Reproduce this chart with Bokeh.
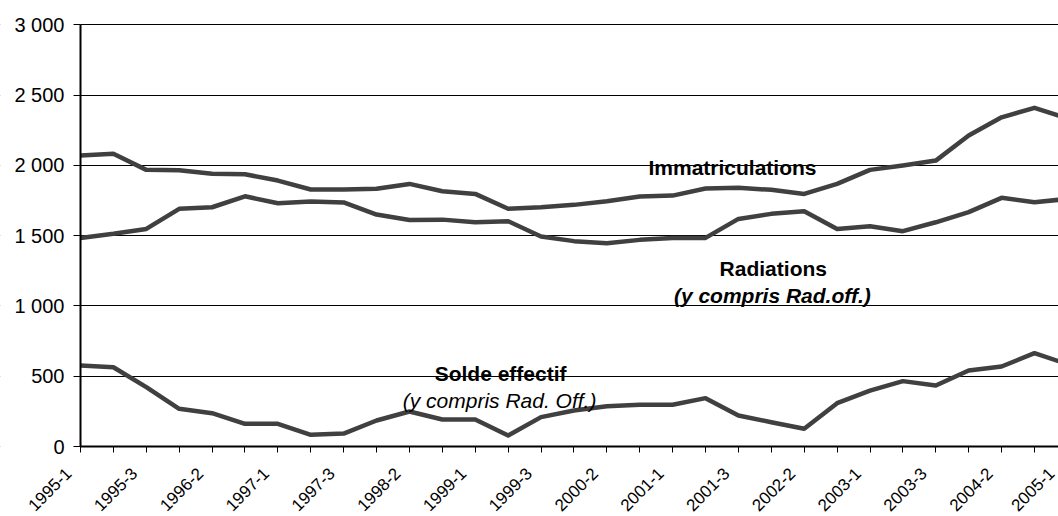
import math
from bokeh.plotting import figure
from bokeh.models import (FixedTicker, Range1d, Label, LinearAxis,
                          BoxAnnotation, ColumnDataSource)
from bokeh.embed import file_html
from bokeh.resources import INLINE

# Four-monthly periods (3 per year), 1995-1 .. 2005-1
periods = [f"{y}-{k}" for y in range(1995, 2005) for k in (1, 2, 3)] + ["2005-1"]

immatriculations = [2070, 2082, 1968, 1965, 1940, 1937, 1892, 1828, 1828, 1833,
                    1868, 1816, 1797, 1691, 1702, 1719, 1745, 1778, 1785, 1835,
                    1840, 1826, 1797, 1868, 1968, 1999, 2034, 2212, 2342, 2409,
                    2335]
radiations = [1484, 1513, 1548, 1691, 1702, 1780, 1731, 1743, 1736, 1650,
              1612, 1614, 1595, 1603, 1494, 1461, 1446, 1470, 1484, 1484,
              1619, 1655, 1674, 1548, 1567, 1532, 1595, 1667, 1769, 1738,
              1761]
solde = [576, 564, 422, 268, 237, 161, 161, 83, 92, 185,
         249, 192, 192, 78, 209, 256, 287, 297, 297, 344,
         220, 173, 126, 308, 398, 465, 434, 541, 569, 664,
         586]

y_ticks = [0, 500, 1000, 1500, 2000, 2500, 3000]
y_tick_labels = ["0", "500", "1 000", "1 500", "2 000", "2 500", "3 000"]

FONT = "Liberation Sans"
LINE_COLOR = "#404040"
W, H = 1058, 516
# plot area inside the canvas (pixels)
LEFT, TOP, BOTTOM = 80, 24.3, 446
X1 = 29.73                                   # last visible period position
PXU = (W - LEFT) / X1                        # px per period
PYU = (BOTTOM - TOP) / 3000                  # px per unit of value

idx = list(range(len(periods)))
src = ColumnDataSource(dict(x=idx, imm=immatriculations, rad=radiations, sol=solde))

p = figure(width=W, height=H,
           x_range=Range1d(-LEFT / PXU, X1),
           y_range=Range1d(-(H - BOTTOM) / PYU, 3000 + TOP / PYU),
           output_backend="svg", toolbar_location=None,
           min_border_left=0, min_border_right=0,
           min_border_top=0, min_border_bottom=0)
p.outline_line_color = None
p.background_fill_color = "white"
p.border_fill_color = "white"

# horizontal grid lines, only to the right of the value axis
p.xgrid.grid_line_color = None
p.ygrid.ticker = FixedTicker(ticks=y_ticks, minor_ticks=[])
p.ygrid.grid_line_color = "black"
p.ygrid.grid_line_width = 1
p.add_layout(BoxAnnotation(left=p.x_range.start - 1, right=0,
                           fill_color="white", fill_alpha=1,
                           line_color=None, level="underlay"))

for col in ("imm", "rad", "sol"):
    p.line("x", col, source=src, line_color=LINE_COLOR, line_width=4.5,
           line_join="round")

# x axis at value 0: a tick mark at every period
xa = p.xaxis[0]
xa.fixed_location = 0
xa.bounds = (0, X1)
xa.ticker = FixedTicker(ticks=idx, minor_ticks=[])
xa.major_label_overrides = {i: "" for i in idx}
xa.major_label_text_font_size = "0px"
xa.major_tick_in = 0
xa.major_tick_out = 6
xa.minor_tick_out = 0
xa.minor_tick_in = 0
xa.axis_line_color = "black"
xa.axis_line_width = 2
xa.major_tick_line_color = "black"

# period labels (every 2nd period), their ends set slightly left of the tick
s1 = 12 / PXU
s2 = 16 / PXU
p.extra_x_ranges = {"lab": Range1d(p.x_range.start + s1, X1 + s1),
                    "lab2": Range1d(p.x_range.start + s2, X1 + s2)}

def label_axis(range_name, ticks):
    ax = LinearAxis(x_range_name=range_name,
                    ticker=FixedTicker(ticks=ticks, minor_ticks=[]),
                    fixed_location=0)
    ax.major_label_overrides = {i: periods[i] for i in ticks}
    ax.major_label_orientation = math.pi / 4
    ax.major_label_standoff = 24
    ax.major_label_text_font = FONT
    ax.major_label_text_font_size = "17px"
    ax.major_label_text_color = "black"
    ax.axis_line_color = None
    ax.major_tick_line_color = None
    ax.minor_tick_line_color = None
    ax.major_tick_in = 0
    ax.major_tick_out = 0
    p.add_layout(ax, "below")

label_axis("lab", idx[:-1:2])
label_axis("lab2", [idx[-1]])

# y axis at period 0
ya = p.yaxis[0]
ya.fixed_location = 0
ya.bounds = (0, 3000)
ya.ticker = FixedTicker(ticks=y_ticks, minor_ticks=[])
ya.major_label_overrides = {t: l for t, l in zip(y_ticks, y_tick_labels)}
ya.major_label_text_font = FONT
ya.major_label_text_font_size = "20px"
ya.major_label_text_color = "black"
ya.major_label_standoff = 9
ya.major_tick_in = 0
ya.major_tick_out = 7
ya.minor_tick_out = 0
ya.minor_tick_in = 0
ya.axis_line_color = "black"
ya.axis_line_width = 2
ya.major_tick_line_color = "black"

def ann(x, y, text, style):
    p.add_layout(Label(x=x, y=y, text=text, text_align="center",
                       text_baseline="alphabetic", text_font=FONT,
                       text_font_size="21px", text_font_style=style,
                       text_color="black"))

ann(19.82, 1986, "Immatriculations", "bold")
ann(21.06, 1263, "Radiations", "bold")
ann(21.03, 1073, "(y compris Rad.off.)", "bold italic")
ann(12.77, 517, "Solde effectif", "bold")
ann(12.74, 327, "(y compris Rad. Off.)", "italic")

open("out.html", "w").write(file_html(p, INLINE))
